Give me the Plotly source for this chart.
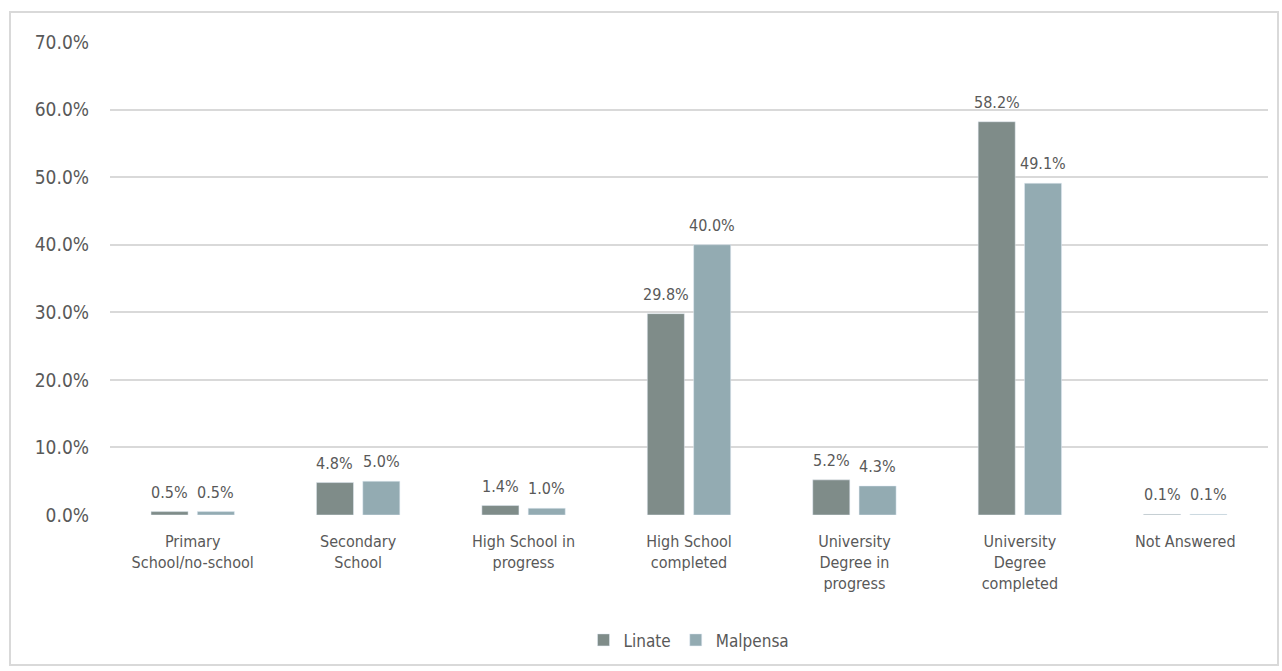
import plotly.graph_objects as go

categories = [
    "Primary<br>School/no-school",
    "Secondary<br>School",
    "High School in<br>progress",
    "High School<br>completed",
    "University<br>Degree in<br>progress",
    "University<br>Degree<br>completed",
    "Not Answered",
]
linate = [0.5, 4.8, 1.4, 29.8, 5.2, 58.2, 0.1]
malpensa = [0.5, 5.0, 1.0, 40.0, 4.3, 49.1, 0.1]
y_ticks = [0, 10, 20, 30, 40, 50, 60, 70]

FONT = "DejaVu Sans Condensed, DejaVu Sans, sans-serif"
TEXT = "#595959"

BARGAP, GROUPGAP = 0.44, 0.2
PLOT_W = 1282 - 110 - 14
slot_px = PLOT_W / len(categories) * (1 - BARGAP) / 2

series = [("Linate", linate, "#7f8c89", -1), ("Malpensa", malpensa, "#93abb2", 1)]

fig = go.Figure()
annotations = []
for name, vals, color, side in series:
    fig.add_trace(go.Bar(name=name, x=categories, y=vals, marker_color=color))
    # value labels sit a little above each bar
    for cat, v in zip(categories, vals):
        annotations.append(dict(
            x=cat, y=v, xref="x", yref="y", text=f"{v:.1f}%", showarrow=False,
            xshift=side * slot_px / 2, yshift=8, yanchor="bottom",
            font=dict(size=16, color=TEXT, family=FONT),
        ))

fig.update_layout(
    width=1282, height=671,
    margin=dict(l=110, r=14, t=42, b=156),
    paper_bgcolor="white", plot_bgcolor="white",
    barmode="group", bargap=BARGAP, bargroupgap=GROUPGAP,
    font=dict(family=FONT, color=TEXT, size=16),
    legend=dict(orientation="h", x=0.5, xanchor="center", y=-0.265, yanchor="middle",
                font=dict(size=17), itemwidth=30, traceorder="normal"),
    yaxis=dict(range=[0, 70], tickvals=y_ticks, ticktext=[f"{v:.1f}%" for v in y_ticks],
               gridcolor="#d9d9d9", gridwidth=2, zeroline=False, showline=False,
               tickfont=dict(size=19), ticks="", ticklen=0, ticklabelstandoff=20),
    xaxis=dict(showline=False, ticks="outside", ticklen=12, tickcolor="rgba(0,0,0,0)",
               tickfont=dict(size=16), tickangle=0),
    annotations=annotations,
    shapes=[dict(type="rect", xref="paper", yref="paper",
                 x0=-100/1158, x1=1+10/1158, y0=-150/473, y1=1+30/473,
                 line=dict(color="#d9d9d9", width=2))],
)

fig.write_html("out.html")
